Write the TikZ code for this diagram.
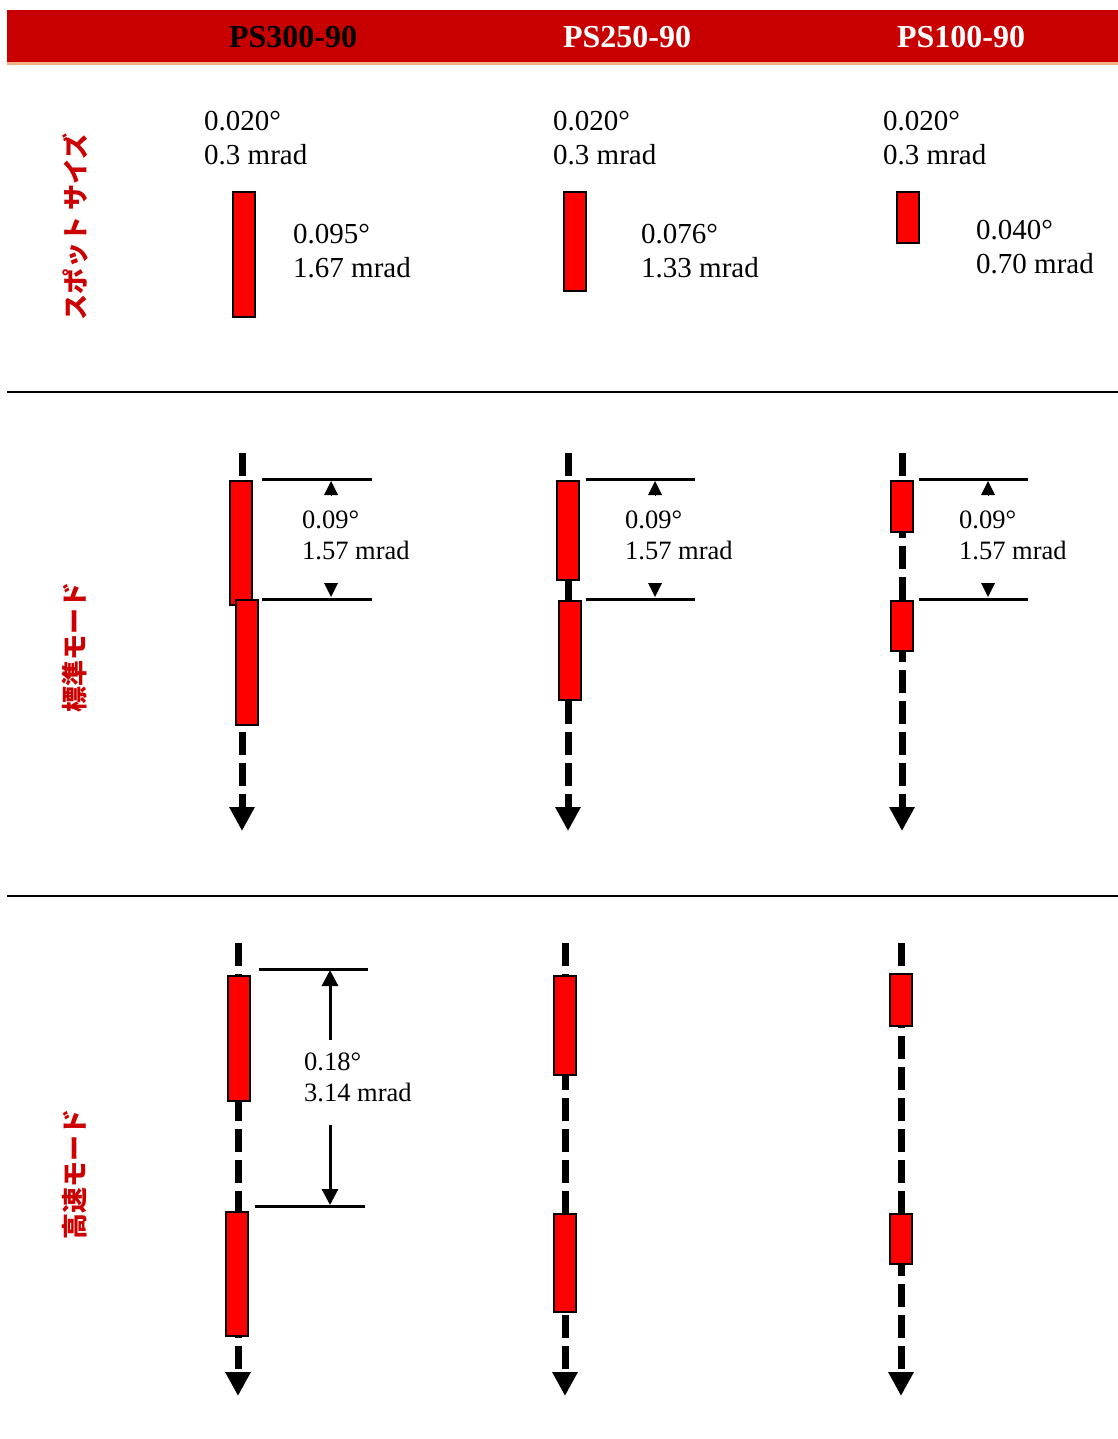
\documentclass[tikz,border=0pt]{standalone}
\usepackage{fontspec}
\setmainfont{Liberation Serif}
\newfontfamily\jpfont{Noto Sans CJK JP}
\usepackage{tikz}
\usetikzlibrary{arrows.meta}
\definecolor{headred}{RGB}{200,0,0}
\definecolor{headedge}{RGB}{244,177,131}
\definecolor{labelred}{RGB}{204,0,0}
\definecolor{spotred}{RGB}{255,0,0}
\tikzstyle{spot}=[rectangle, draw=black, fill=spotred, line width=2pt, minimum width=22pt, inner sep=0pt, anchor=north]
\tikzstyle{beamline}=[line width=7pt, dash pattern=on 23pt off 8pt, -{Triangle[width=24pt,length=24pt]}]
\tikzstyle{dimline}=[line width=3pt]
\tikzstyle{dimtip}=[line width=0pt, -{Triangle[width=14pt,length=14pt]}]
\tikzstyle{dimarrow}=[line width=3pt, -{Triangle[width=16pt,length=16pt]}]
\tikzstyle{value}=[align=left, anchor=north west, inner sep=0pt, font=\fontsize{29}{34}\selectfont]
\tikzstyle{pitch}=[align=left, anchor=north west, inner sep=0pt, font=\fontsize{26.5}{30.5}\selectfont]
\tikzstyle{rowlabel}=[rotate=90, text=labelred, font=\jpfont\bfseries\fontsize{26}{26}\selectfont]
\tikzstyle{model}=[font=\bfseries\fontsize{32}{32}\selectfont]

\begin{document}
\begin{tikzpicture}[x=1pt, y=-1pt]
			\useasboundingbox (0,0) rectangle (1118,1439);
			% header
			\fill[headred] (7,10) rectangle (1118,62);
			\fill[headedge] (7,62) rectangle (1118,65);
			\node[model, text=black] (ps300) at (293,37) {PS300-90};
			\node[model, text=white] (ps250) at (627,37) {PS250-90};
			\node[model, text=white] (ps100) at (961,37) {PS100-90};
			\draw[line width=2pt] (7,392) -- (1118,392);
			\draw[line width=2pt] (7,896) -- (1118,896);
			% row labels
			\node[rowlabel] (spotsize) at (75,227) {スポット サイズ};
			\node[rowlabel] (stdmode) at (75,647) {標準モード};
			\node[rowlabel] (fastmode) at (75,1174) {高速モード};
			% spot size
			\node[value] (s1div) at (204,111) {0.020°\\0.3 mrad};
			\node[value] (s2div) at (553,111) {0.020°\\0.3 mrad};
			\node[value] (s3div) at (883,111) {0.020°\\0.3 mrad};
			\node[spot, minimum height=125pt] (s1) at (244,191) {};
			\node[spot, minimum height=99pt] (s2) at (574.5,191) {};
			\node[spot, minimum height=51pt] (s3) at (907.5,191) {};
			\node[value] (s1len) at (293,224) {0.095°\\1.67 mrad};
			\node[value] (s2len) at (641,224) {0.076°\\1.33 mrad};
			\node[value] (s3len) at (976,220) {0.040°\\0.70 mrad};
			% standard mode
			\coordinate (m1top) at (242,453);
			\coordinate (m1end) at (242,831);
			\coordinate (m2top) at (568,453);
			\coordinate (m2end) at (568,831);
			\coordinate (m3top) at (902,453);
			\coordinate (m3end) at (902,831);
			\draw[beamline] (m1top) -- (m1end);
			\draw[beamline] (m2top) -- (m2end);
			\draw[beamline] (m3top) -- (m3end);
			\node[spot, minimum height=124pt] (m1a) at (241,480) {};
			\node[spot, minimum height=125pt] (m1b) at (247,599) {};
			\node[spot, minimum height=99pt] (m2a) at (568,480) {};
			\node[spot, minimum height=99pt] (m2b) at (570,600) {};
			\node[spot, minimum height=51pt] (m3a) at (901.5,480) {};
			\node[spot, minimum height=50pt] (m3b) at (901.5,600) {};
			\draw[dimline] (262,479) -- (372,479);
			\draw[dimline] (262,599) -- (372,599);
			\draw[dimline] (586,479) -- (695,479);
			\draw[dimline] (586,599) -- (695,599);
			\draw[dimline] (919,479) -- (1028,479);
			\draw[dimline] (919,599) -- (1028,599);
			\draw[dimtip] (331,495) -- (331,481);
			\draw[dimtip] (331,583) -- (331,597);
			\draw[dimtip] (655,495) -- (655,481);
			\draw[dimtip] (655,583) -- (655,597);
			\draw[dimtip] (988,495) -- (988,481);
			\draw[dimtip] (988,583) -- (988,597);
			\node[pitch] (m1gap) at (302,511) {0.09°\\1.57 mrad};
			\node[pitch] (m2gap) at (625,511) {0.09°\\1.57 mrad};
			\node[pitch] (m3gap) at (959,511) {0.09°\\1.57 mrad};
			% high speed mode
			\coordinate (f1top) at (238,943);
			\coordinate (f1end) at (238,1396);
			\coordinate (f2top) at (565,943);
			\coordinate (f2end) at (565,1396);
			\coordinate (f3top) at (901,943);
			\coordinate (f3end) at (901,1396);
			\draw[beamline] (f1top) -- (f1end);
			\draw[beamline] (f2top) -- (f2end);
			\draw[beamline] (f3top) -- (f3end);
			\node[spot, minimum height=125pt] (f1a) at (239,975) {};
			\node[spot, minimum height=124pt] (f1b) at (237,1211) {};
			\node[spot, minimum height=99pt] (f2a) at (565,975) {};
			\node[spot, minimum height=98pt] (f2b) at (565,1213) {};
			\node[spot, minimum height=52pt] (f3a) at (901,973) {};
			\node[spot, minimum height=50pt] (f3b) at (901,1213) {};
			\draw[dimline] (259,969) -- (368,969);
			\draw[dimline] (255,1206) -- (365,1206);
			\coordinate (f1up) at (330,1040);
			\coordinate (f1upend) at (330,970);
			\coordinate (f1dn) at (330,1125);
			\coordinate (f1dnend) at (330,1205);
			\draw[dimarrow] (f1up) -- (f1upend);
			\draw[dimarrow] (f1dn) -- (f1dnend);
			\node[pitch] (f1gap) at (304,1053) {0.18°\\3.14 mrad};
		\end{tikzpicture}
\end{document}
